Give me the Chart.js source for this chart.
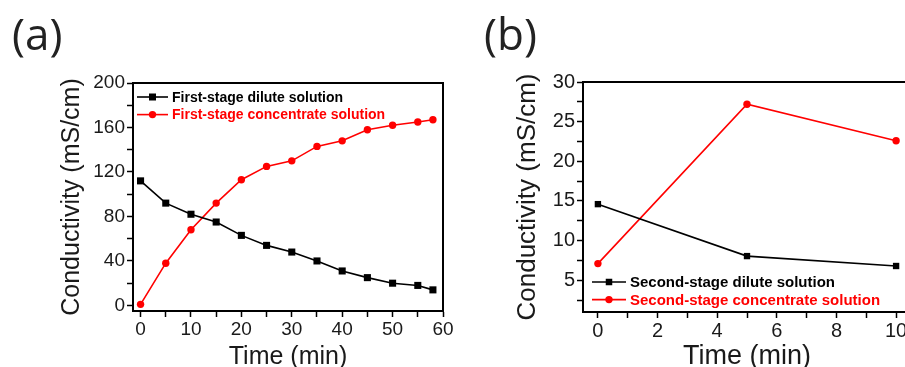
<!DOCTYPE html>
<html>
<head>
<meta charset="utf-8">
<script src="https://cdn.jsdelivr.net/npm/chart.js@4.4.1/dist/chart.umd.min.js"></script>
<style>
  html, body { margin: 0; padding: 0; background: #fff; width: 905px; height: 367px; overflow: hidden; }
  #wrap { position: relative; width: 905px; height: 367px; overflow: hidden; }
  canvas { position: absolute; top: 0; }
  .plabel { position: absolute; font-family: "Open Sans", sans-serif; font-size: 44px; color: #222; line-height: 1; }
</style>
</head>
<body>
<div id="wrap">
  <canvas id="ca" width="460" height="367" style="left:0px"></canvas>
  <canvas id="cb" width="476" height="367" style="left:452px"></canvas>
  <div class="plabel" style="left:12px; top:11px;">(a)</div>
  <div class="plabel" style="left:484px; top:11px;">(b)</div>
</div>
<script>
// ---------- Data ----------
const timeA = [0, 5, 10, 15, 20, 25, 30, 35, 40, 45, 50, 55, 58];
const diluteA = [112, 92, 82, 75, 63, 54, 48, 40, 31, 25, 20, 18, 14];
const concA = [1, 38, 68, 92, 113, 125, 130, 143, 148, 158, 162, 165, 167];
const labelDiluteA = "First-stage dilute solution";
const labelConcA = "First-stage concentrate solution";

const timeB = [0, 5, 10];
const diluteB = [14.6, 8.05, 6.8];
const concB = [7.1, 27.2, 22.6];
const labelDiluteB = "Second-stage dilute solution";
const labelConcB = "Second-stage concentrate solution";

const xTicksA = [0, 5, 10, 15, 20, 25, 30, 35, 40, 45, 50, 55, 60];
const xMajorA = [0, 10, 20, 30, 40, 50, 60];
const yTicksA = [0, 20, 40, 60, 80, 100, 120, 140, 160, 180, 200];
const yMajorA = [0, 40, 80, 120, 160, 200];

const xTicksB = [0, 1, 2, 3, 4, 5, 6, 7, 8, 9, 10];
const xMajorB = [0, 2, 4, 6, 8, 10];
const yTicksB = [2.5, 5, 7.5, 10, 12.5, 15, 17.5, 20, 22.5, 25, 27.5, 30];
const yMajorB = [5, 10, 15, 20, 25, 30];

const yTitle = "Conductivity (mS/cm)";
const xTitle = "Time (min)";

// ---------- Helpers ----------
const AX = "'Liberation Sans', Arial, sans-serif";

const framePlugin = {
  id: 'frame',
  afterDatasetsDraw(chart) {
    const {ctx, chartArea: a} = chart;
    ctx.save();
    ctx.strokeStyle = '#000';
    ctx.lineWidth = 2;
    ctx.strokeRect(a.left, a.top, a.right - a.left, a.bottom - a.top);
    ctx.restore();
  }
};

const insideLegend = {
  id: 'insideLegend',
  afterDatasetsDraw(chart, args, opts) {
    const {ctx} = chart;
    ctx.save();
    chart.data.datasets.forEach((ds, i) => {
      const y = opts.y0 + i * opts.dy;
      ctx.strokeStyle = ds.borderColor;
      ctx.lineWidth = 1.6;
      ctx.beginPath();
      ctx.moveTo(opts.x1, y);
      ctx.lineTo(opts.x2, y);
      ctx.stroke();
      const cx = (opts.x1 + opts.x2) / 2;
      ctx.fillStyle = ds.backgroundColor;
      if (ds.pointStyle === 'rect') {
        const s = opts.sq;
        ctx.fillRect(cx - s / 2, y - s / 2, s, s);
      } else {
        ctx.beginPath();
        ctx.arc(cx, y, opts.cr, 0, Math.PI * 2);
        ctx.fill();
      }
      ctx.fillStyle = ds.borderColor;
      ctx.font = 'bold ' + opts.size + 'px ' + AX;
      ctx.textBaseline = 'middle';
      ctx.textAlign = 'left';
      ctx.fillText(ds.label, opts.tx, y + 1);
    });
    ctx.restore();
  }
};

function makeChart(id, cfg) {
  const ds = [
    { label: cfg.l1, data: cfg.x.map((t, i) => ({x: t, y: cfg.d1[i]})), borderColor: '#000', backgroundColor: '#000',
      pointStyle: 'rect', pointRadius: cfg.sqR, borderWidth: 1.6, pointBorderWidth: 0 },
    { label: cfg.l2, data: cfg.x.map((t, i) => ({x: t, y: cfg.d2[i]})), borderColor: '#ff0000', backgroundColor: '#ff0000',
      pointStyle: 'circle', pointRadius: cfg.cR, borderWidth: 1.6, pointBorderWidth: 0 }
  ];
  return new Chart(document.getElementById(id), {
    type: 'scatter',
    data: { datasets: ds.map(d => Object.assign(d, {showLine: true, tension: 0})) },
    options: {
      responsive: false, animation: false, devicePixelRatio: 1,
      layout: { padding: { top: cfg.top, right: cfg.right, left: 0, bottom: 0 } },
      plugins: { legend: { display: false }, tooltip: { enabled: false }, insideLegend: cfg.legend },
      scales: {
        x: {
          type: 'linear', min: cfg.xmin, max: cfg.xmax,
          afterBuildTicks: s => { s.ticks = cfg.xt.map(v => ({value: v})); },
          afterFit: s => { s.height = cfg.xh; },
          grid: { drawOnChartArea: false, drawTicks: true, tickLength: 6, tickColor: '#000', tickWidth: 1.5 },
          border: { display: true, color: '#000', width: 2 },
          ticks: { color: '#1a1a1a', padding: 1, maxRotation: 0, autoSkip: false,
                   font: { family: AX, size: cfg.tickSize },
                   callback: v => cfg.xm.includes(v) ? String(v) : '' },
          title: { display: true, text: xTitle, color: '#1a1a1a', font: { family: AX, size: cfg.xtSize, lineHeight: 1 },
                   padding: { top: 0, bottom: cfg.xtPad } }
        },
        y: {
          type: 'linear', min: cfg.ymin, max: cfg.ymax,
          afterBuildTicks: s => { s.ticks = cfg.yt.map(v => ({value: v})); },
          afterFit: s => { s.width = cfg.yw; },
          grid: { drawOnChartArea: false, drawTicks: true, tickLength: 6, tickColor: '#000', tickWidth: 1.5 },
          border: { display: true, color: '#000', width: 2 },
          ticks: { color: '#1a1a1a', padding: 2, autoSkip: false,
                   font: { family: AX, size: cfg.tickSize },
                   callback: v => cfg.ym.includes(v) ? String(v) : '' },
          title: { display: true, text: yTitle, color: '#1a1a1a', font: { family: AX, size: cfg.ytSize, lineHeight: 1.2 },
                   padding: { top: cfg.ytPad, bottom: 0 } }
        }
      }
    },
    plugins: [framePlugin, insideLegend]
  });
}

makeChart('ca', {
  x: timeA, d1: diluteA, d2: concA, l1: labelDiluteA, l2: labelConcA,
  xmin: -1.5, xmax: 60, ymin: -5, ymax: 200,
  xt: xTicksA, xm: xMajorA, yt: yTicksA, ym: yMajorA,
  top: 83, right: 17, xh: 56, yw: 133,
  tickSize: 19, xtSize: 25, ytSize: 25, xtPad: -3, ytPad: 57,
  sqR: 5, cR: 3.7,
  legend: { x1: 137, x2: 168, y0: 97, dy: 17.6, tx: 172, size: 14, sq: 7, cr: 3.7 }
});

makeChart('cb', {
  x: timeB, d1: diluteB, d2: concB, l1: labelDiluteB, l2: labelConcB,
  xmin: -0.5, xmax: 10.5, ymin: 1, ymax: 30,
  xt: xTicksB, xm: xMajorB, yt: yTicksB, ym: yMajorB,
  top: 82, right: 17, xh: 55, yw: 131,
  tickSize: 20, xtSize: 27, ytSize: 26, xtPad: -3, ytPad: 60,
  sqR: 4.5, cR: 3.7,
  legend: { x1: 140, x2: 174, y0: 282, dy: 17.6, tx: 178, size: 15, sq: 6.5, cr: 3.7 }
});
</script>
</body>
</html>
